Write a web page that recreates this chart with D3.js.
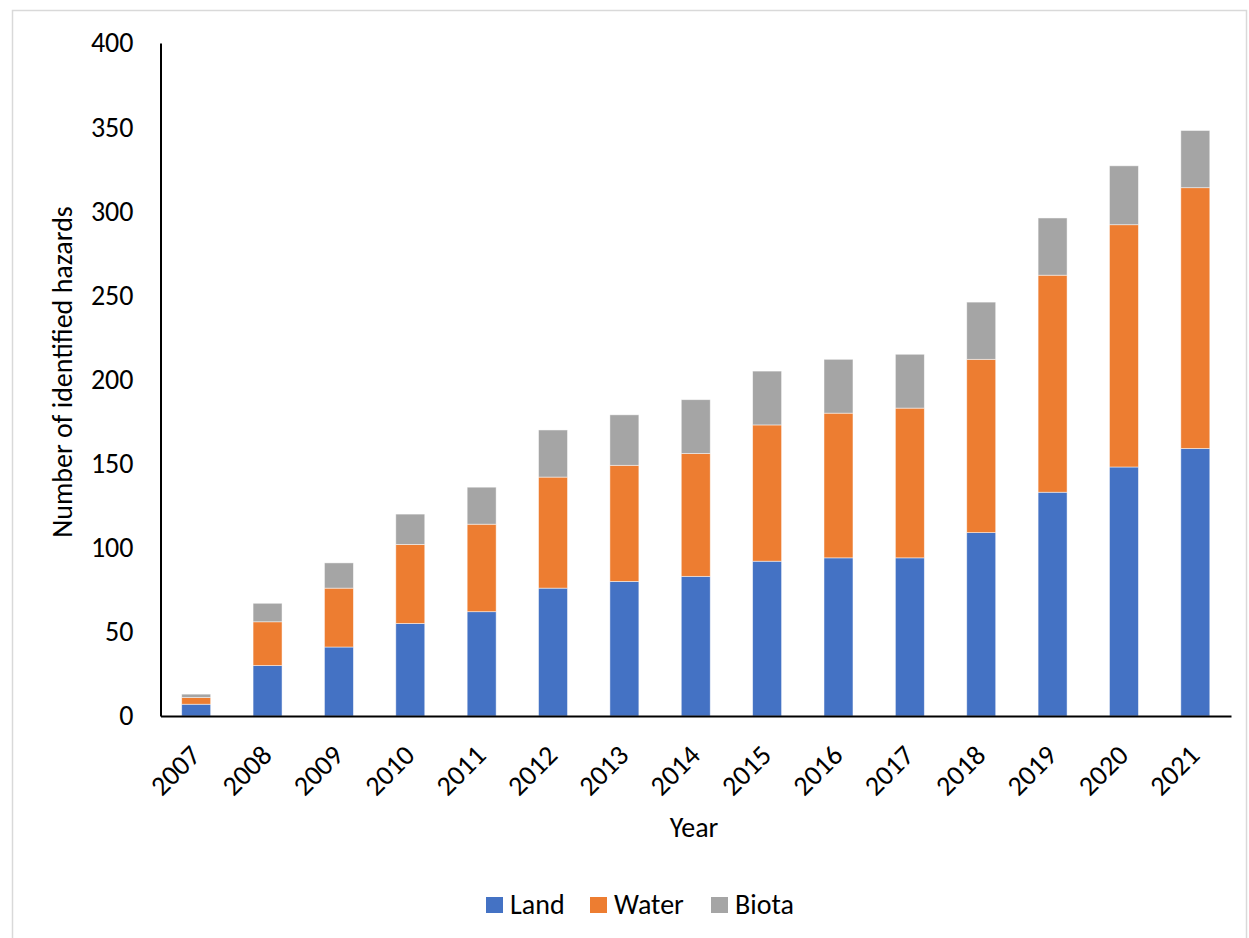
<!DOCTYPE html>
<html>
<head>
<meta charset="utf-8">
<script src="https://cdn.jsdelivr.net/npm/d3@7"></script>
<style>
  html, body { margin: 0; padding: 0; background: #fff; }
  svg { display: block; font-family: Carlito, Calibri, Lato, "Open Sans", sans-serif; }
</style>
</head>
<body>
<svg id="chart" width="1249" height="938"></svg>
<script>
const years = ["2007","2008","2009","2010","2011","2012","2013","2014","2015","2016","2017","2018","2019","2020","2021"];
const land  = [7, 30, 41, 55, 62, 76, 80, 83, 92, 94, 94, 109, 133, 148, 159];
const water = [4, 26, 35, 47, 52, 66, 69, 73, 81, 86, 89, 103, 129, 144, 155];
const biota = [2, 11, 15, 18, 22, 28, 30, 32, 32, 32, 32, 34, 34, 35, 34];
const seriesNames = ["Land", "Water", "Biota"];
const seriesColors = ["#4472C4", "#ED7D31", "#A5A5A5"];
const yTicks = [0, 50, 100, 150, 200, 250, 300, 350, 400];

(function () {
const FS = 28;
const svg = d3.select("#chart");

// outer chart border
svg.append("rect")
  .attr("x", 12.5).attr("y", 10.5)
  .attr("width", 1234).attr("height", 940)
  .attr("fill", "#fff").attr("stroke", "#d9d9d9").attr("stroke-width", 1.5);

const pLeft = 160.5, pRight = 1231, pTop = 43, pBottom = 716;

const x = d3.scaleBand().domain(years).range([pLeft, pRight])
  .paddingInner(0.594).paddingOuter(0.297);
const y = d3.scaleLinear().domain([0, 400]).range([pBottom, pTop]);

const table = years.map((yr, i) => ({ year: yr, Land: land[i], Water: water[i], Biota: biota[i] }));
const stacked = d3.stack().keys(seriesNames)(table);

svg.append("g").selectAll("g")
  .data(stacked).join("g")
  .attr("fill", (d, i) => seriesColors[i])
  .selectAll("rect")
  .data(d => d).join("rect")
  .attr("x", d => x(d.data.year))
  .attr("y", d => y(d[1]))
  .attr("width", x.bandwidth())
  .attr("height", d => y(d[0]) - y(d[1]))
  .attr("stroke", "#ffffff")
  .attr("stroke-opacity", 0.6)
  .attr("stroke-width", 0.8);

// y axis
const yAxis = d3.axisLeft(y).tickValues(yTicks).tickSize(0).tickPadding(27);
const gy = svg.append("g").attr("transform", `translate(${pLeft},0)`).call(yAxis);
gy.select(".domain").attr("stroke", "#000").attr("stroke-width", 2);
gy.selectAll("text").attr("font-size", FS).attr("fill", "#000")
  .attr("font-family", "Carlito, Calibri, Lato, sans-serif");

// x axis
const xAxis = d3.axisBottom(x).tickSize(0).tickPadding(0);
const gx = svg.append("g").attr("transform", `translate(0,${pBottom})`).call(xAxis);
gx.select(".domain").attr("stroke", "#000").attr("stroke-width", 2);
gx.selectAll("text")
  .attr("font-size", FS).attr("fill", "#000")
  .attr("font-family", "Carlito, Calibri, Lato, sans-serif")
  .attr("text-anchor", "end")
  .attr("dy", 0)
  .attr("transform", "translate(6,41) rotate(-45)");

// axis titles
svg.append("text")
  .attr("transform", "translate(72,372) rotate(-90)")
  .attr("text-anchor", "middle")
  .attr("font-size", FS).attr("fill", "#000")
  .text("Number of identified hazards");

svg.append("text")
  .attr("x", 694).attr("y", 837)
  .attr("text-anchor", "middle")
  .attr("font-size", FS).attr("fill", "#000")
  .text("Year");

// legend
const legendX = [486, 590, 711];
const lg = svg.append("g");
seriesNames.forEach((name, i) => {
  lg.append("rect").attr("x", legendX[i]).attr("y", 897)
    .attr("width", 17).attr("height", 16).attr("fill", seriesColors[i]);
  lg.append("text").attr("x", legendX[i] + 24).attr("y", 914)
    .attr("font-size", FS).attr("fill", "#000").text(name);
});
})();
</script>
</body>
</html>
